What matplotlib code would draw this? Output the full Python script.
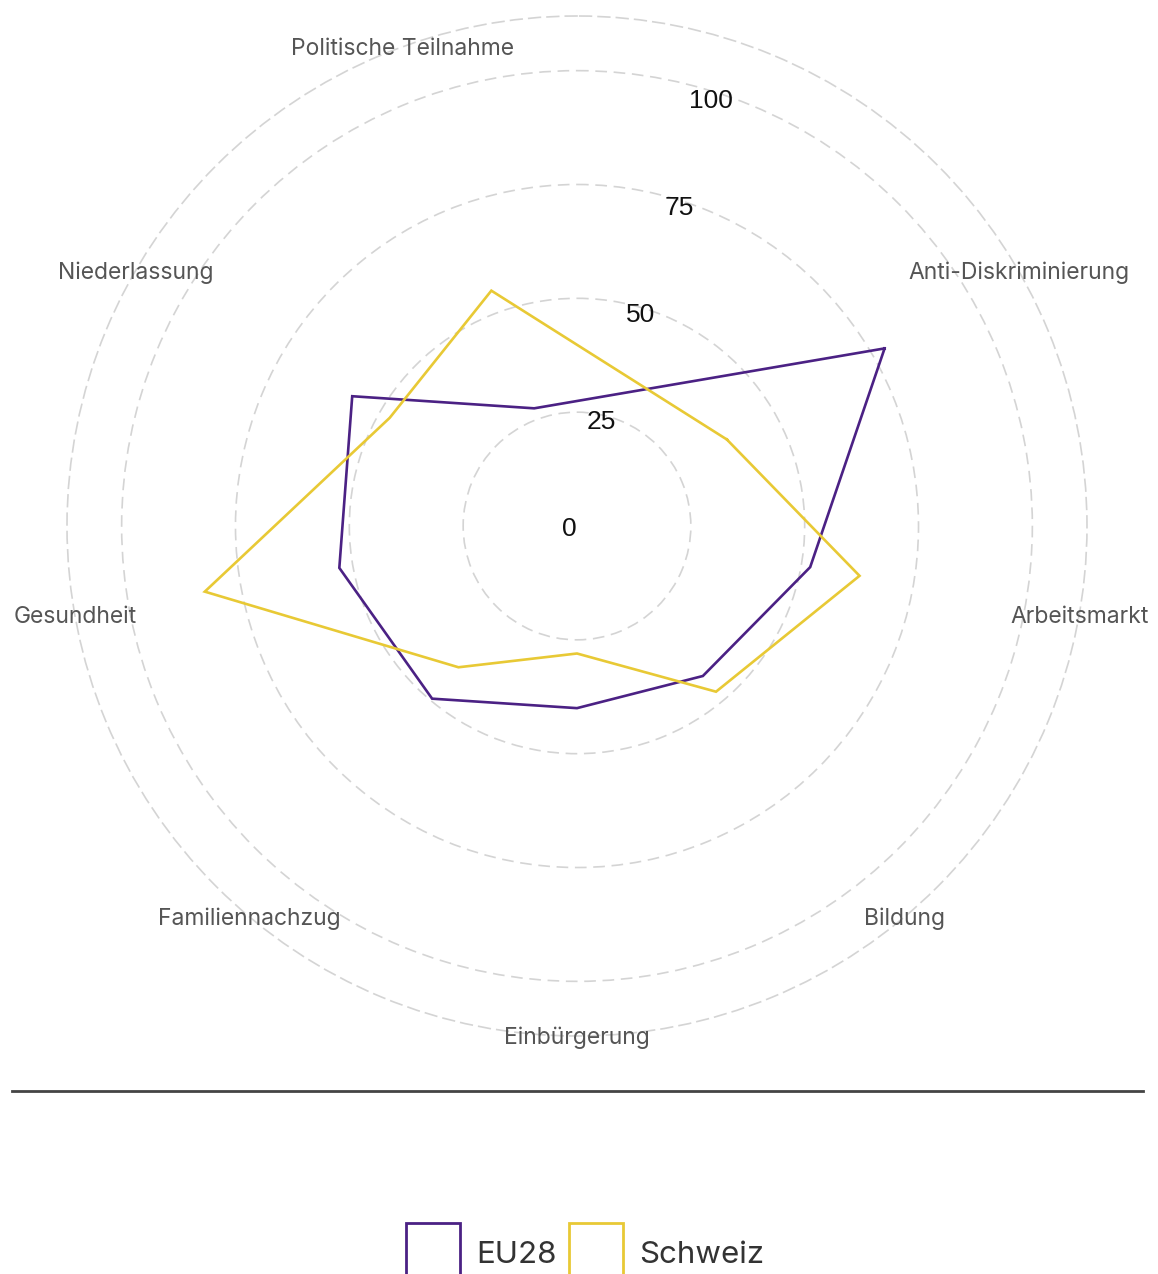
import numpy as np
import matplotlib
matplotlib.use("Agg")
import matplotlib.pyplot as plt
from matplotlib.patches import Rectangle
from matplotlib.lines import Line2D
from matplotlib.transforms import offset_copy

# ---------------------------------------------------------------------------
# Data (MIPEX-style scores)
# ---------------------------------------------------------------------------
categories = ["Anti-Diskriminierung", "Arbeitsmarkt", "Bildung", "Einbürgerung",
              "Familiennachzug", "Gesundheit", "Niederlassung", "Politische Teilnahme"]
eu28 = [78, 52, 43, 40, 49.5, 53, 57, 27.5]
schweiz = [38, 63, 47.5, 28, 40.5, 83, 47.5, 55]
series_names = ["EU28", "Schweiz"]
r_ticks = [0, 25, 50, 75, 100]

# ---------------------------------------------------------------------------
# Style
# ---------------------------------------------------------------------------
W, H = 1158, 1274
DPI = 100
PURPLE = "#4B2184"
YELLOW = "#E8C935"
GRID = "#d4d4d4"
LABEL_FONT = "Inter"
R_MAX = 112
# the original spaces the 8 axes 40 degrees apart, starting at 60 degrees
ANGLE_START, ANGLE_STEP = 60, 40

fig = plt.figure(figsize=(W / DPI, H / DPI), dpi=DPI)
fig.patch.set_facecolor("white")

cx, cy, rad = 577, 526, 510
ax = fig.add_axes([(cx - rad) / W, (H - cy - rad) / H, 2 * rad / W, 2 * rad / H],
                  projection="polar")
ax.set_theta_zero_location("N")
ax.set_theta_direction(-1)
ax.set_ylim(0, R_MAX)

theta = np.deg2rad(ANGLE_START + ANGLE_STEP * np.arange(len(categories)))
theta_closed = np.append(theta, theta[0])

for vals, color in [(eu28, PURPLE), (schweiz, YELLOW)]:
    v = np.append(vals, vals[0])
    ax.plot(theta_closed, v, color=color, lw=1.9, solid_joinstyle="miter")

# grid: dashed circles only
ax.set_xticks([])
ax.set_yticks(r_ticks[1:])
ax.set_yticklabels([])
ax.yaxis.grid(True, color=GRID, lw=1.2, ls=(0, (7, 4)))
ax.xaxis.grid(False)
ax.spines["polar"].set_color(GRID)
ax.spines["polar"].set_linewidth(1.2)
ax.spines["polar"].set_linestyle((0, (7, 4)))
ax.tick_params(axis="y", length=0)

# radial tick labels, right-aligned along the 20 degree direction
tick_tr = offset_copy(ax.transData, fig=fig, x=0, y=-10, units="dots")
for r in r_ticks:
    ax.text(np.deg2rad(20), r, str(r), ha="right", va="baseline",
            transform=tick_tr, fontsize=19, family="Liberation Sans",
            color="#111111")

# category labels centred on the outer ring
lab_tr = offset_copy(ax.transData, fig=fig, x=0, y=-2, units="dots")
for t, lab in zip(theta, categories):
    ax.text(t, R_MAX, lab, ha="center", va="center", fontsize=16.5,
            transform=lab_tr, family=LABEL_FONT, color="#555555")

# separator line
fig.add_artist(Line2D([12 / W, 1143 / W], [(H - 1091) / H] * 2,
                      color="#444444", lw=2))

# legend boxes
for x0, color, name, tx in [(406, PURPLE, series_names[0], 476),
                            (569, YELLOW, series_names[1], 639)]:
    fig.add_artist(Rectangle((x0 / W, (H - 1277) / H), 54 / W, 54 / H,
                             transform=fig.transFigure, facecolor="none",
                             edgecolor=color, lw=2))
    fig.text(tx / W, (H - 1263) / H, name, ha="left", va="baseline",
             fontsize=22.5, family=LABEL_FONT, color="#333333")

fig.savefig("out.png", dpi=DPI)
